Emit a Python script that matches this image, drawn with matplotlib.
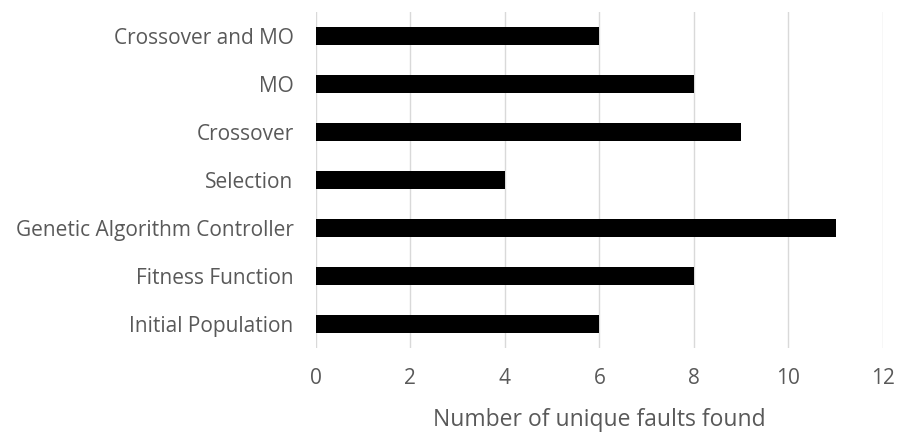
import matplotlib.pyplot as plt

# Faults found per GA component
components = ['Initial Population', 'Fitness Function', 'Genetic Algorithm Controller',
              'Selection', 'Crossover', 'MO', 'Crossover and MO']
faults = [6, 8, 11, 4, 9, 8, 6]

plt.rcParams['font.family'] = ['Open Sans', 'DejaVu Sans']
text_col = '#595959'

fig = plt.figure(figsize=(9, 4.32), dpi=100)
ax = fig.add_axes([0.351, 0.194, 0.630, 0.778])

ax.barh(range(len(components)), faults, height=0.38, color='black', zorder=3)

ax.set_xlim(0, 12)
ax.set_ylim(-0.5, len(components) - 0.5)
ax.set_xticks(range(0, 13, 2))
ax.set_yticks(range(len(components)))
ax.set_yticklabels(components)
ax.grid(axis='x', color='#d9d9d9', linewidth=1, zorder=0)
for s in ax.spines.values():
    s.set_visible(False)
ax.tick_params(length=0, labelsize=15, colors=text_col)
ax.tick_params(axis='x', pad=14)
ax.tick_params(axis='y', pad=16)
ax.set_xlabel('Number of unique faults found', fontsize=16.5, color=text_col, labelpad=14)

fig.savefig('out.png', dpi=100)
